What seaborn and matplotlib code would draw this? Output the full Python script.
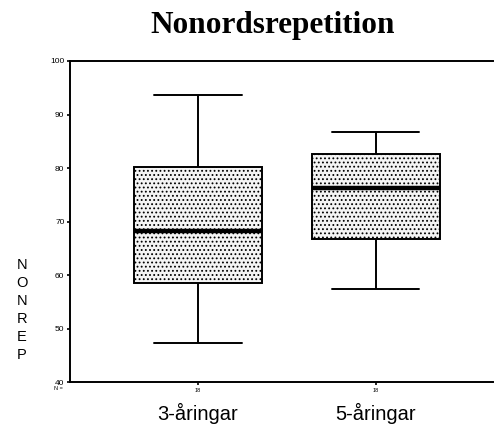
import numpy as np
import matplotlib
matplotlib.use("Agg")
import matplotlib.pyplot as plt
import matplotlib.transforms as mtransforms
import pandas as pd
import seaborn as sns

# ── Data (five-number summaries) ─────────────────────────────────────────────
groups = ["3-åringar", "5-åringar"]
low_whisker = [47.3, 57.4]
q1 = [58.5, 66.7]
median = [68.2, 76.3]
q3 = [80.2, 82.6]
high_whisker = [93.6, 86.7]
n_labels = ["18", "18"]
y_ticks = [40, 50, 60, 70, 80, 90, 100]

rows = []
for g, a, b, c, d, e in zip(groups, low_whisker, q1, median, q3, high_whisker):
    for v in (a, b, c, d, e):
        rows.append({"group": g, "NONREP": v})
df = pd.DataFrame(rows)

sns.set_theme(style="white")
plt.rcParams["font.family"] = ["Liberation Sans", "DejaVu Sans"]
plt.rcParams["hatch.color"] = "#9a9a9a"
plt.rcParams["hatch.linewidth"] = 0.8

fig = plt.figure(figsize=(4.94, 4.32), dpi=100)
ax = fig.add_axes([0.1417, 0.1157, 0.8563, 0.7431])

sns.boxplot(data=df, x="group", y="NONREP", order=groups, whis=np.inf,
            width=0.72, color="#f2f2f2", linecolor="black", linewidth=1.4,
            medianprops={"linewidth": 3.2, "color": "black"},
            capprops={"linewidth": 1.4}, whiskerprops={"linewidth": 1.4},
            ax=ax)

for patch in ax.patches:
    patch.set_hatch("....")
    patch.set_facecolor("#f4f4f4")

# narrower caps, like the original
for line in ax.lines:
    xd = np.asarray(line.get_xdata(), dtype=float)
    yd = np.asarray(line.get_ydata(), dtype=float)
    if len(xd) == 2 and yd[0] == yd[1] and abs(xd[1] - xd[0]) < 0.5:
        c = xd.mean()
        line.set_xdata([c - 0.245, c + 0.245])

ax.set_xlim(-0.72, 1.66)
ax.set_ylim(40, 100)
ax.set_yticks(y_ticks)
ax.set_yticklabels([str(t) for t in y_ticks], fontsize=6)
ax.set_xticks(range(len(groups)))
ax.set_xticklabels(n_labels, fontsize=4)
ax.tick_params(axis="both", length=2, width=1.2, direction="out", pad=2,
               left=True, bottom=True, colors="black")
ax.set_xlabel("")
ax.set_ylabel("")

for side in ["left", "bottom", "top"]:
    ax.spines[side].set_visible(True)
    ax.spines[side].set_color("black")
    ax.spines[side].set_linewidth(1.4)
ax.spines["right"].set_visible(False)

trans = mtransforms.blended_transform_factory(ax.transData, fig.transFigure)
for i, g in enumerate(groups):
    ax.text(i, 1 - 413 / 432, g, transform=trans, ha="center", va="center",
            fontsize=14.5, color="black")

fig.text(63 / 494, 1 - 389 / 432, "N =", fontsize=4, ha="right", va="center",
         color="black")
fig.text(22 / 494, 1 - 310 / 432, "N\nO\nN\nR\nE\nP", fontsize=10.5,
         ha="center", va="center", linespacing=1.36, color="black")
fig.text(273 / 494, 1 - 26 / 432, "Nonordsrepetition", fontsize=22.5,
         fontweight="bold", ha="center", va="center", color="black",
         family=["Liberation Serif", "DejaVu Serif"])

fig.savefig("out.png", dpi=100)
